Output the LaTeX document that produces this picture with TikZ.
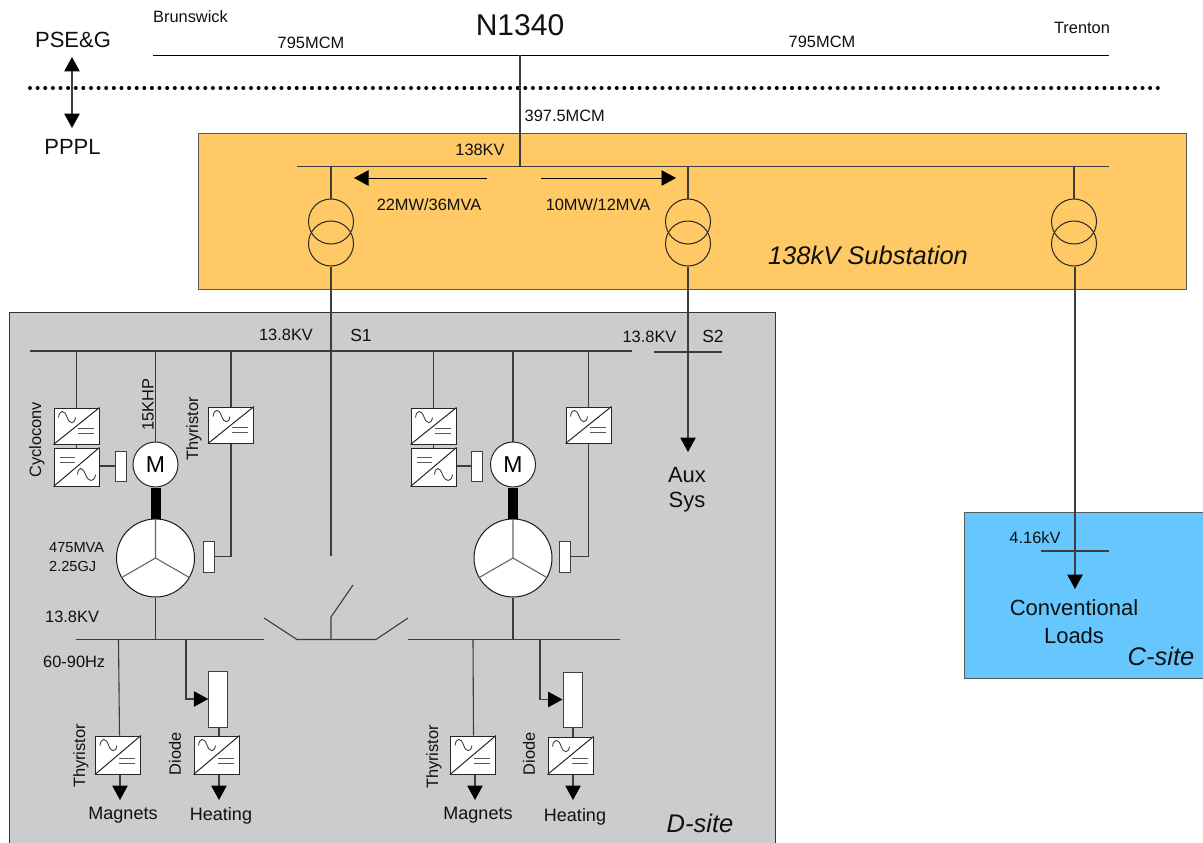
\documentclass[tikz,border=0pt]{standalone}
\usepackage{fontspec}
\setmainfont{Liberation Sans}
\usetikzlibrary{arrows.meta}
\definecolor{wire}{HTML}{3C3C3C}
\definecolor{inkc}{HTML}{101010}
\definecolor{subst}{HTML}{FFCA66}
\definecolor{dsite}{HTML}{CCCCCC}
\definecolor{csite}{HTML}{66C7FF}
\newcommand{\fs}[1]{\fontsize{#1}{#1}\selectfont}
\tikzset{
  tip/.tip={Triangle[length=14.5pt,width=15.5pt,color=black]},
  wireline/.style={draw=wire,line width=1.1pt},
  thinline/.style={draw=black,line width=.9pt},
  headed/.style={wireline,-tip},
  area/.style={draw=#1,line width=.9pt},
  lab/.style={text=inkc,inner sep=0pt,font=\fs{16.4}},
  biglab/.style={lab,font=\fs{22},align=center},
  sitelab/.style={lab,font=\fs{25.5}\itshape},
  convb/.style={draw=black!85,line width=1pt,fill=white,inner sep=0pt,minimum width=45pt,minimum height=#1},
  smallbox/.style={draw=black!75,line width=1pt,fill=white,inner sep=0pt,minimum width=#1},
  xf/.style={circle,draw=black!85,line width=1pt,inner sep=0pt,minimum size=45pt},
  motor/.style={circle,draw=black!85,line width=1pt,fill=white,inner sep=0pt,minimum size=45pt,font=\fs{23},text=black},
  gen/.style={circle,draw=black!90,line width=1pt,fill=white,inner sep=0pt,minimum size=78pt},
}
% AC->DC converter: tilde top-left, equals bottom-right
\newcommand{\convAD}[4]{% name, cx, cy, h
  \node[convb=#4] (#1) at (#2,#3) {};
  \begin{scope}[shift={(#1.north west)},draw=black!75,line width=.9pt]
    \draw (5,10) .. controls (6,2) and (11,2) .. (13.5,9.5) .. controls (16,17) and (21,17) .. (22,10);
    \draw[line width=1pt,draw=black!65] (24,#4-15) -- (40,#4-15) (24,#4-10) -- (40,#4-10);
  \end{scope}
  \draw[draw=black!85,line width=1pt] (#1.south west) -- (#1.north east);
}
% DC->AC converter: equals top-left, tilde bottom-right
\newcommand{\convDA}[4]{%
  \node[convb=#4] (#1) at (#2,#3) {};
  \begin{scope}[shift={(#1.north west)},draw=black!75,line width=.9pt]
    \draw[line width=1pt,draw=black!65] (6,10) -- (21,10) (6,15) -- (21,15);
    \draw (24,27) .. controls (25,19) and (29,19) .. (32,27) .. controls (35,35) and (41,35) .. (42,27);
  \end{scope}
  \draw[draw=black!85,line width=1pt] (#1.south west) -- (#1.north east);
}
\begin{document}
\begin{tikzpicture}[x=1pt,y=-1pt]
\useasboundingbox (0,0) rectangle (1203,843);
% areas
\fill[subst] (198,133) rectangle (1186,289);
\draw[area=black!65] (198,133) rectangle (1186,289);
\fill[dsite] (9,312) rectangle (775,860);
\draw[area=black!80] (9,312) rectangle (775,860);
\fill[csite] (964,512) rectangle (1215,678);
\draw[area=black!65] (964,512) rectangle (1215,678);

% free line ends
\coordinate (tl) at (153,55);   \coordinate (tr) at (1109,55);
\coordinate (tap) at (520,55);
\coordinate (bL) at (297,166.7); \coordinate (bR) at (1109,166.7);
\coordinate (s1L) at (30,351);  \coordinate (s1R) at (632,351);
\coordinate (s2L) at (654,352); \coordinate (s2R) at (722,352);
\coordinate (g1L) at (76,639.5);  \coordinate (g1R) at (264,639.5);
\coordinate (g2L) at (408,639.5); \coordinate (g2R) at (620,639.5);
\coordinate (cbL) at (297,639.5); \coordinate (cbR) at (376,639.5);
\coordinate (cbLo) at (264,618);  \coordinate (cbRo) at (408,618);
\coordinate (cbM) at (331,639.5); \coordinate (cbMk) at (331,617); \coordinate (cbMo) at (353,585);
\coordinate (feedend) at (331,556);
\coordinate (lb1) at (1041,551); \coordinate (lb2) at (1109,551);

% boundary
\coordinate (dL) at (30,88); \coordinate (dR) at (1158,88);
\draw[line width=4pt,line cap=round,dash pattern=on 0pt off 7.62pt,black] (dL) -- (dR);

% top line
\draw[thinline] (tl) -- (tr);
\draw[wireline] (tap) -- (tap |- bL);
\draw[wireline] (bL) -- (bR);
\draw[wireline] (s1L) -- (s1R);
\draw[wireline] (s2L) -- (s2R);
\draw[wireline] (g1L) -- (g1R);
\draw[wireline] (g2L) -- (g2R);
\draw[wireline] (cbLo) -- (cbL) -- (cbR) -- (cbRo);
\draw[wireline] (cbM) -- (cbMk) -- (cbMo);
\draw[wireline] (lb1) -- (lb2);

% PSE&G / PPPL
\node[biglab] (pse) at (73,40) {PSE\&G};
\node[biglab] (ppl) at (72.5,147) {PPPL};
\coordinate (pseA) at (72,57); \coordinate (pplA) at (72,128);
\draw[wireline,tip-tip] (pseA) -- (pplA);

% transformers
\foreach \n/\x in {1/331,2/688,3/1074}{
  \node[xf] (T\n a) at (\x,221.5) {};
  \node[xf] (T\n b) at (\x,243.5) {};
  \draw[wireline] (T\n a.north |- bL) -- (T\n a.north);
}
% power-flow arrows
\coordinate (fl1) at (487,178); \coordinate (fl2) at (354,178);
\coordinate (fr1) at (541,178); \coordinate (fr2) at (676,178);
\draw[thinline,-tip] (fl1) -- (fl2);
\draw[thinline,-tip] (fr1) -- (fr2);

% feeders out of the transformers
\draw[wireline] (T1b.south) -- (feedend);
\coordinate (aux) at (688,452);
\draw[headed] (T2b.south) -- (aux);
\coordinate (conv) at (1075,589);
\draw[headed] (T3b.south -| conv) -- (conv);

% left unit
\convAD{cA}{76.5}{426}{36}
\convDA{cB}{76.5}{467}{38}
\node[smallbox=11pt,minimum height=30pt] (rA) at (120.5,466) {};
\node[motor] (mA) at (155.5,464.5) {M};
\node[gen] (gA) at (155.5,558) {};
\convAD{cC}{231}{425}{36}
\node[smallbox=11pt,minimum height=31pt] (rB) at (208.5,556.5) {};
\draw[wireline] (cA.north) -- (cA.north |- s1L);
\draw[wireline] (cA.south) -- (cB.north);
\draw[wireline] (cB.east |- rA.west) -- (rA.west);
\draw[wireline] (mA.north) -- (mA.north |- s1L);
\draw[black,line width=10pt] (mA.south) -- (gA.north);
\draw[wireline] (cC.north) -- (cC.north |- s1L);
\draw[wireline] (cC.south) -- (cC.south |- rB.east) -- (rB.east);
\draw[draw=black!60,line width=1.1pt] (gA.center) -- (gA.north) (gA.center) -- (gA.210) (gA.center) -- (gA.330);
\draw[wireline] (gA.south) -- (gA.south |- g1L);

% right unit
\convAD{cD}{433.5}{426}{36}
\convDA{cE}{433.5}{467}{38}
\node[smallbox=11pt,minimum height=30pt] (rC) at (477,466) {};
\node[motor] (mB) at (513,464.5) {M};
\node[gen] (gB) at (513,558) {};
\convAD{cF}{588.5}{425}{36}
\node[smallbox=11pt,minimum height=31pt] (rD) at (564.5,556.5) {};
\draw[wireline] (cD.north) -- (cD.north |- s1L);
\draw[wireline] (cD.south) -- (cE.north);
\draw[wireline] (cE.east |- rC.west) -- (rC.west);
\draw[wireline] (mB.north) -- (mB.north |- s1L);
\draw[black,line width=10pt] (mB.south) -- (gB.north);
\draw[wireline] (cF.north) -- (cF.north |- s1L);
\draw[wireline] (cF.south) -- (cF.south |- rD.east) -- (rD.east);
\draw[draw=black!60,line width=1.1pt] (gB.center) -- (gB.north) (gB.center) -- (gB.210) (gB.center) -- (gB.330);
\draw[wireline] (gB.south) -- (gB.south |- g2L);

% left loads
\convAD{cG}{118}{755}{38}
\coordinate (mgA) at (120,800);
\draw[wireline] (118.5,639.5) -- (cG.north -| 119.5,0);
\draw[headed] (mgA |- cG.south) -- (mgA);
\node[smallbox=18.5pt,minimum height=56pt] (rE) at (218,699) {};
\convAD{cH}{216.5}{755}{38}
\coordinate (htA) at (219,800);
\coordinate (tapA) at (186,639.5);
\draw[headed] (tapA) -- (tapA |- rE.west) -- (rE.west);
\draw[wireline] (htA |- rE.south) -- (htA |- cH.north);
\draw[headed] (htA |- cH.south) -- (htA);

% right loads
\convAD{cJ}{473}{755}{38}
\coordinate (mgB) at (475,800);
\draw[wireline] (473,639.5) -- (cJ.north -| 473.5,0);
\draw[headed] (mgB |- cJ.south) -- (mgB);
\node[smallbox=19pt,minimum height=55pt] (rF) at (572.5,699.5) {};
\convAD{cK}{570.5}{755.5}{37}
\coordinate (htB) at (573,800);
\coordinate (tapB) at (540,639.5);
\draw[headed] (tapB) -- (tapB |- rF.west) -- (rF.west);
\draw[wireline] (htB |- rF.south) -- (htB |- cK.north);
\draw[headed] (htB |- cK.south) -- (htB);

% labels
\node[lab,font=\fs{30}] (n1) at (520,25) {N1340};
\node[lab] (n2) at (190.5,16.5) {Brunswick};
\node[lab] (n3) at (1082,28) {Trenton};
\node[lab] (n4) at (311,43) {795MCM};
\node[lab] (n5) at (822,42) {795MCM};
\node[lab,anchor=west] (n6) at (524.5,116) {397.5MCM};
\node[lab] (n7) at (480,150) {138KV};
\node[lab] (n8) at (429,205) {22MW/36MVA};
\node[lab] (n9) at (598,205) {10MW/12MVA};
\node[sitelab] (n10) at (868,255) {138kV Substation};
\node[lab] (n11) at (286,335) {13.8KV};
\node[lab,font=\fs{17.5}] (n12) at (361,335) {S1};
\node[lab] (n13) at (649.5,337) {13.8KV};
\node[lab,font=\fs{17.5}] (n14) at (713,336) {S2};
\node[lab,rotate=90] (n15) at (37,440) {Cycloconv};
\node[lab,rotate=90] (n16) at (148,405) {15KHP};
\node[lab,rotate=90] (n17) at (194,429) {Thyristor};
\node[lab,anchor=west,font=\fs{14.6}] (n18) at (49,548) {475MVA};
\node[lab,anchor=west,font=\fs{14.6}] (n19) at (49,566) {2.25GJ};
\node[lab,anchor=west] (n20) at (45,617) {13.8KV};
\node[lab,anchor=west] (n21) at (43,662) {60-90Hz};
\node[lab,rotate=90] (n22) at (81,756) {Thyristor};
\node[lab,rotate=90] (n23) at (175,754) {Diode};
\node[lab,rotate=90] (n24) at (434,757) {Thyristor};
\node[lab,rotate=90] (n25) at (529,754) {Diode};
\node[lab,font=\fs{18}] (n26) at (123,815) {Magnets};
\node[lab,font=\fs{18}] (n27) at (221,816) {Heating};
\node[lab,font=\fs{18}] (n28) at (478,815) {Magnets};
\node[lab,font=\fs{18}] (n29) at (575,817) {Heating};
\node[sitelab] (n30) at (700,823) {D-site};
\node[biglab] (n31) at (687,475) {Aux};
\node[biglab] (n32) at (687,502) {Sys};
\node[lab] (n33) at (1035,538) {4.16kV};
\node[biglab] (n34) at (1074,608) {Conventional};
\node[biglab] (n35) at (1074,636) {Loads};
\node[sitelab] (n36) at (1161,656) {C-site};
\end{tikzpicture}
\end{document}
